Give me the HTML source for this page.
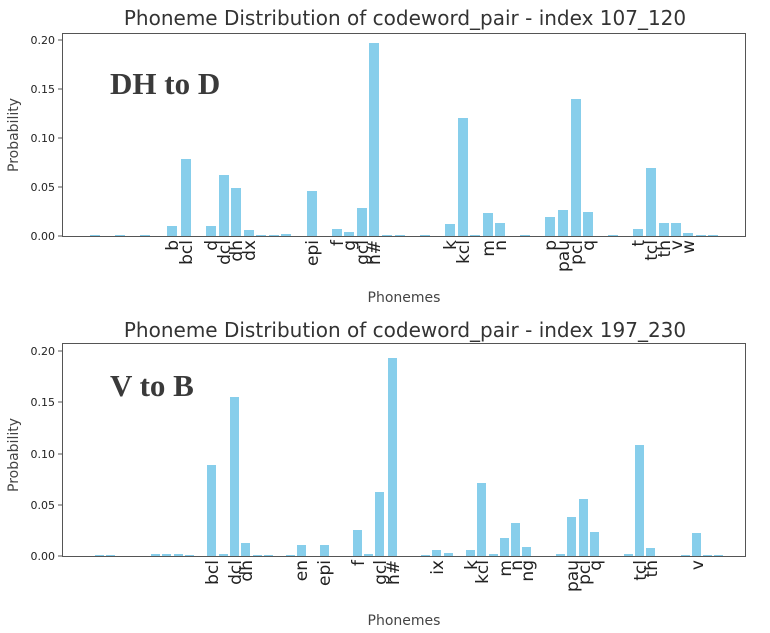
<!DOCTYPE html>
<html><head><meta charset="utf-8"><style>
body{margin:0;background:#fff}
svg{display:block}
text{font-family:"DejaVu Sans","Liberation Sans",sans-serif;fill:#222}
.b{fill:#87ceeb}
.t{font-size:20px;fill:#333}
.y{font-size:11px}
.x{font-size:17px}
.l{font-size:14px;fill:#444}
.a{font-family:"Liberation Serif",serif;font-weight:bold;font-size:31px;fill:#3a3a3a}
</style></head><body>
<svg width="770" height="633" viewBox="0 0 770 633">
<!-- TOP -->
<text class="t" x="405" y="25" text-anchor="middle">Phoneme Distribution of codeword_pair - index 107_120</text>
<g class="b">
<rect x="90" y="235" width="10" height="1"/><rect x="115" y="235" width="10" height="1"/><rect x="140" y="235" width="10" height="1"/>
<rect x="167" y="226" width="10" height="10"/>
<rect x="181" y="159" width="10" height="77"/>
<rect x="206" y="226" width="10" height="10"/>
<rect x="219" y="175" width="10" height="61"/>
<rect x="231" y="188" width="10" height="48"/>
<rect x="244" y="230" width="10" height="6"/>
<rect x="256" y="235" width="10" height="1"/><rect x="269" y="235" width="10" height="1"/>
<rect x="281" y="234" width="10" height="2"/>
<rect x="307" y="191" width="10" height="45"/>
<rect x="332" y="229" width="10" height="7"/>
<rect x="344" y="232" width="10" height="4"/>
<rect x="357" y="208" width="10" height="28"/>
<rect x="369" y="43" width="10" height="193"/>
<rect x="382" y="235" width="10" height="1"/><rect x="395" y="235" width="10" height="1"/><rect x="420" y="235" width="10" height="1"/>
<rect x="445" y="224" width="10" height="12"/>
<rect x="458" y="118" width="10" height="118"/>
<rect x="470" y="235" width="10" height="1"/>
<rect x="483" y="213" width="10" height="23"/>
<rect x="495" y="223" width="10" height="13"/>
<rect x="520" y="235" width="10" height="1"/>
<rect x="545" y="217" width="10" height="19"/>
<rect x="558" y="210" width="10" height="26"/>
<rect x="571" y="99" width="10" height="137"/>
<rect x="583" y="212" width="10" height="24"/>
<rect x="608" y="235" width="10" height="1"/>
<rect x="633" y="229" width="10" height="7"/>
<rect x="646" y="168" width="10" height="68"/>
<rect x="659" y="223" width="10" height="13"/>
<rect x="671" y="223" width="10" height="13"/>
<rect x="683" y="233" width="10" height="3"/>
<rect x="696" y="235" width="10" height="1"/><rect x="708" y="235" width="10" height="1"/>
</g>
<rect x="62.5" y="33.5" width="683" height="203" fill="none" stroke="#555" stroke-width="1"/>
<g stroke="#555">
<line x1="58" y1="236" x2="62" y2="236"/><line x1="58" y1="187" x2="62" y2="187"/><line x1="58" y1="138" x2="62" y2="138"/><line x1="58" y1="89" x2="62" y2="89"/><line x1="58" y1="40" x2="62" y2="40"/>
</g>
<g class="y" text-anchor="end">
<text x="55" y="240">0.00</text><text x="55" y="191">0.05</text><text x="55" y="142">0.10</text><text x="55" y="93">0.15</text><text x="55" y="44">0.20</text>
</g>
<text class="l" transform="translate(18,135) rotate(-90)" text-anchor="middle">Probability</text>
<text class="a" x="110" y="94">DH to D</text>
<g class="x" text-anchor="end">
<text transform="translate(178,240) rotate(-90)">b</text>
<text transform="translate(192,240) rotate(-90)">bcl</text>
<text transform="translate(217,240) rotate(-90)">d</text>
<text transform="translate(230,240) rotate(-90)">dcl</text>
<text transform="translate(242,240) rotate(-90)">dh</text>
<text transform="translate(255,240) rotate(-90)">dx</text>
<text transform="translate(318,240) rotate(-90)">epi</text>
<text transform="translate(343,240) rotate(-90)">f</text>
<text transform="translate(355,240) rotate(-90)">g</text>
<text transform="translate(368,240) rotate(-90)">gcl</text>
<text transform="translate(380,240) rotate(-90)">h#</text>
<text transform="translate(456,240) rotate(-90)">k</text>
<text transform="translate(469,240) rotate(-90)">kcl</text>
<text transform="translate(494,240) rotate(-90)">m</text>
<text transform="translate(506,240) rotate(-90)">n</text>
<text transform="translate(556,240) rotate(-90)">p</text>
<text transform="translate(569,240) rotate(-90)">pau</text>
<text transform="translate(582,240) rotate(-90)">pcl</text>
<text transform="translate(594,240) rotate(-90)">q</text>
<text transform="translate(644,240) rotate(-90)">t</text>
<text transform="translate(657,240) rotate(-90)">tcl</text>
<text transform="translate(670,240) rotate(-90)">th</text>
<text transform="translate(682,240) rotate(-90)">v</text>
<text transform="translate(694,240) rotate(-90)">w</text>
</g>
<text class="l" x="404" y="302" text-anchor="middle">Phonemes</text>

<!-- BOTTOM -->
<text class="t" x="405" y="337" text-anchor="middle">Phoneme Distribution of codeword_pair - index 197_230</text>
<g class="b">
<rect x="95" y="555" width="9" height="1"/><rect x="106" y="555" width="9" height="1"/>
<rect x="151" y="554" width="9" height="2"/><rect x="162" y="554" width="9" height="2"/><rect x="174" y="554" width="9" height="2"/><rect x="185" y="555" width="9" height="1"/>
<rect x="207" y="465" width="9" height="91"/>
<rect x="219" y="554" width="9" height="2"/>
<rect x="230" y="397" width="9" height="159"/>
<rect x="241" y="543" width="9" height="13"/>
<rect x="253" y="555" width="9" height="1"/><rect x="264" y="555" width="9" height="1"/><rect x="286" y="555" width="9" height="1"/>
<rect x="297" y="545" width="9" height="11"/>
<rect x="320" y="545" width="9" height="11"/>
<rect x="353" y="530" width="9" height="26"/>
<rect x="364" y="554" width="9" height="2"/>
<rect x="375" y="492" width="9" height="64"/>
<rect x="388" y="358" width="9" height="198"/>
<rect x="421" y="555" width="9" height="1"/>
<rect x="432" y="550" width="9" height="6"/>
<rect x="444" y="553" width="9" height="3"/>
<rect x="466" y="550" width="9" height="6"/>
<rect x="477" y="483" width="9" height="73"/>
<rect x="489" y="554" width="9" height="2"/>
<rect x="500" y="538" width="9" height="18"/>
<rect x="511" y="523" width="9" height="33"/>
<rect x="522" y="547" width="9" height="9"/>
<rect x="556" y="554" width="9" height="2"/>
<rect x="567" y="517" width="9" height="39"/>
<rect x="579" y="499" width="9" height="57"/>
<rect x="590" y="532" width="9" height="24"/>
<rect x="624" y="554" width="9" height="2"/>
<rect x="635" y="445" width="9" height="111"/>
<rect x="646" y="548" width="9" height="8"/>
<rect x="681" y="555" width="9" height="1"/>
<rect x="692" y="533" width="9" height="23"/>
<rect x="703" y="555" width="9" height="1"/><rect x="714" y="555" width="9" height="1"/>
</g>
<rect x="62.5" y="343.5" width="683" height="213" fill="none" stroke="#555" stroke-width="1"/>
<g stroke="#555">
<line x1="58" y1="556" x2="62" y2="556"/><line x1="58" y1="505" x2="62" y2="505"/><line x1="58" y1="454" x2="62" y2="454"/><line x1="58" y1="402" x2="62" y2="402"/><line x1="58" y1="351" x2="62" y2="351"/>
</g>
<g class="y" text-anchor="end">
<text x="55" y="560">0.00</text><text x="55" y="509">0.05</text><text x="55" y="458">0.10</text><text x="55" y="406">0.15</text><text x="55" y="355">0.20</text>
</g>
<text class="l" transform="translate(18,455) rotate(-90)" text-anchor="middle">Probability</text>
<text class="a" x="110" y="396">V to B</text>
<g class="x" text-anchor="end">
<text transform="translate(218,560) rotate(-90)">bcl</text>
<text transform="translate(241,560) rotate(-90)">dcl</text>
<text transform="translate(252,560) rotate(-90)">dh</text>
<text transform="translate(307,560) rotate(-90)">en</text>
<text transform="translate(330,560) rotate(-90)">epi</text>
<text transform="translate(364,560) rotate(-90)">f</text>
<text transform="translate(386,560) rotate(-90)">gcl</text>
<text transform="translate(399,560) rotate(-90)">h#</text>
<text transform="translate(443,560) rotate(-90)">ix</text>
<text transform="translate(477,560) rotate(-90)">k</text>
<text transform="translate(488,560) rotate(-90)">kcl</text>
<text transform="translate(511,560) rotate(-90)">m</text>
<text transform="translate(522,560) rotate(-90)">n</text>
<text transform="translate(533,560) rotate(-90)">ng</text>
<text transform="translate(578,560) rotate(-90)">pau</text>
<text transform="translate(590,560) rotate(-90)">pcl</text>
<text transform="translate(601,560) rotate(-90)">q</text>
<text transform="translate(646,560) rotate(-90)">tcl</text>
<text transform="translate(657,560) rotate(-90)">th</text>
<text transform="translate(703,560) rotate(-90)">v</text>
</g>
<text class="l" x="404" y="625" text-anchor="middle">Phonemes</text>
</svg>
</body></html>
